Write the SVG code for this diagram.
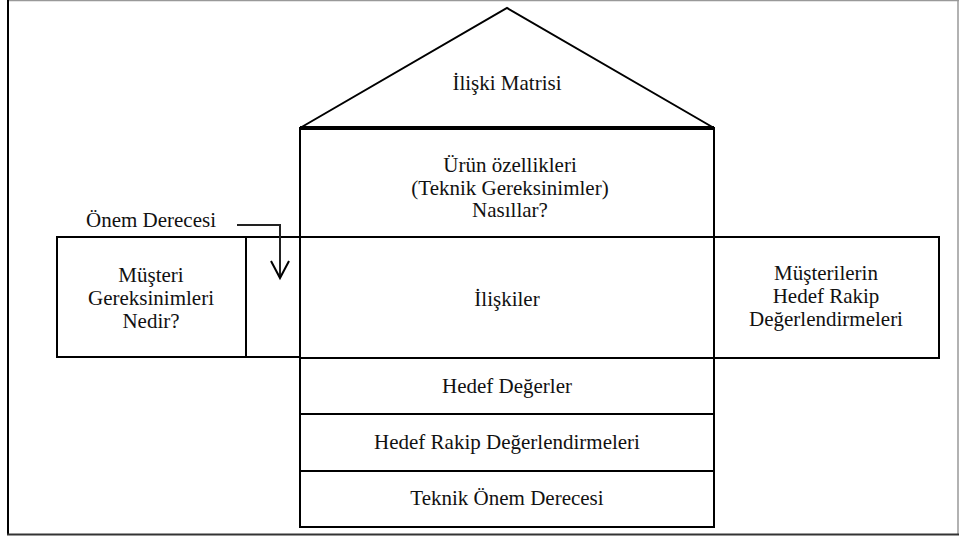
<svg xmlns="http://www.w3.org/2000/svg" width="959" height="539" viewBox="0 0 959 539">
<style>
.ln{fill:none;stroke:#000;stroke-width:2}
.t{font-family:"Liberation Serif","Times New Roman",serif;font-size:21px;fill:#111;text-anchor:middle}
</style>
<rect width="959" height="539" fill="#fff"/>
<g id="frame">
<line x1="8" y1="0.5" x2="959" y2="0.5" stroke="#999" stroke-width="1.5"/>
<line x1="8" y1="0" x2="8" y2="535" stroke="#000" stroke-width="2"/>
<line x1="958" y1="0" x2="958" y2="535" stroke="#999" stroke-width="1.5"/>
<line x1="7" y1="534.5" x2="959" y2="534.5" stroke="#333" stroke-width="2"/>
</g>
<g id="roof">
<polyline class="ln" points="300,128 507,8 714,128"/>
<line x1="300" y1="128" x2="714" y2="128" stroke="#000" stroke-width="4"/>
<text class="t" x="507" y="90">İlişki Matrisi</text>
</g>
<g id="urun">
<rect class="ln" x="300" y="128" width="414" height="109"/>
<text class="t" x="510" y="172">Ürün özellikleri</text>
<text class="t" x="510" y="195">(Teknik Gereksinimler)</text>
<text class="t" x="510" y="217">Nasıllar?</text>
</g>
<g id="musteri">
<rect class="ln" x="57" y="237" width="189" height="120"/>
<text class="t" x="151" y="282">Müşteri</text>
<text class="t" x="151" y="305">Gereksinimleri</text>
<text class="t" x="151" y="328">Nedir?</text>
</g>
<g id="onem">
<rect class="ln" x="246" y="237" width="54" height="120"/>
</g>
<g id="iliskiler">
<rect class="ln" x="300" y="237" width="414" height="121"/>
<text class="t" x="507" y="306">İlişkiler</text>
</g>
<g id="rakip">
<rect class="ln" x="714" y="237" width="225" height="121"/>
<text class="t" x="826" y="280">Müşterilerin</text>
<text class="t" x="826" y="303">Hedef Rakip</text>
<text class="t" x="826" y="326">Değerlendirmeleri</text>
</g>
<g id="hedef">
<rect class="ln" x="300" y="358" width="414" height="56"/>
<text class="t" x="507" y="393">Hedef Değerler</text>
</g>
<g id="hedefrakip">
<rect class="ln" x="300" y="414" width="414" height="57"/>
<text class="t" x="507" y="449">Hedef Rakip Değerlendirmeleri</text>
</g>
<g id="teknik">
<rect class="ln" x="300" y="471" width="414" height="56"/>
<text class="t" x="507" y="505">Teknik Önem Derecesi</text>
</g>
<g id="label">
<text class="t" x="151" y="227">Önem Derecesi</text>
</g>
<g id="connectors">
<polyline points="237,225 280,225 280,277" fill="none" stroke="#222" stroke-width="2"/>
<polyline points="271,261 280,278 289,261" fill="none" stroke="#000" stroke-width="2"/>
</g>
</svg>
